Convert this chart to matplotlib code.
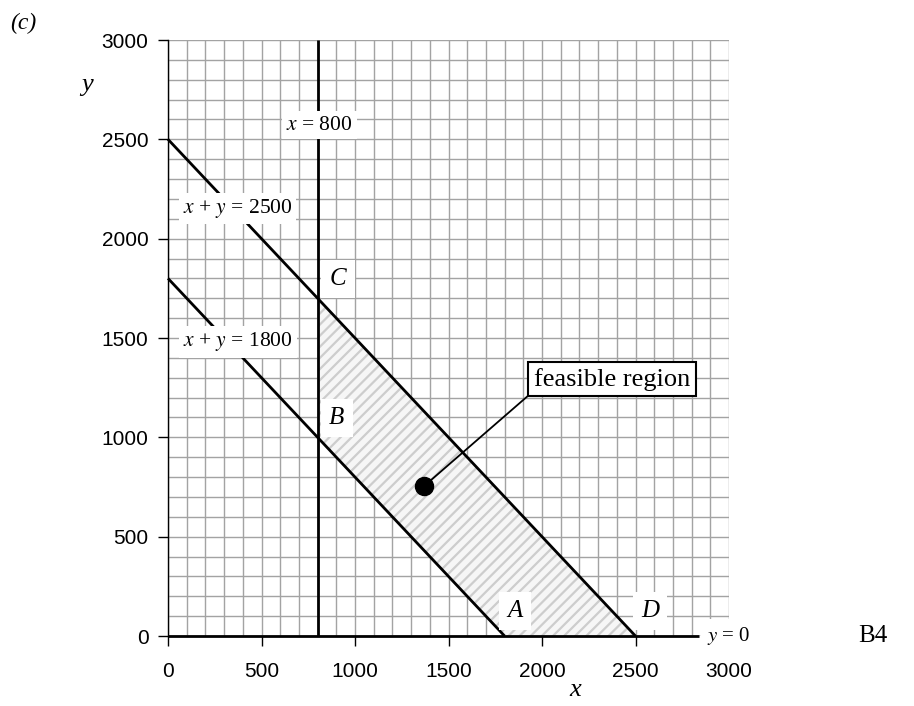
import numpy as np
import matplotlib
matplotlib.use("Agg")
import matplotlib.pyplot as plt

plt.rcParams['mathtext.fontset'] = 'stix'
plt.rcParams['font.family'] = ['Liberation Sans', 'DejaVu Sans']
plt.rcParams['hatch.linewidth'] = 1.6

# Data
tick_values = [0, 500, 1000, 1500, 2000, 2500, 3000]
grid_values = list(range(0, 3001, 100))
line_x800 = ([800, 800], [0, 3000])
line_2500 = ([0, 2500], [2500, 0])
line_1800 = ([0, 1800], [1800, 0])
line_y0 = ([0, 2840], [0, 0])
region_x = [800, 800, 2500, 1800]
region_y = [1000, 1700, 0, 0]
point = (1370, 755)

labels_lines = [
    (r'$x$ = 800', 810, 2572),
    (r'$x$ + $y$ = 2500', 372, 2152),
    (r'$x$ + $y$ = 1800', 374, 1480),
]
labels_vertices = [
    ('C', 909, 1797),
    ('B', 903, 1097),
    ('A', 1856, 126),
    ('D', 2578, 126),
]

fig = plt.figure(figsize=(9.14, 7.06), dpi=100)
ax = fig.add_axes([168/914, 70/706, (729-168)/914, (636-40)/706])
ax.set_xlim(0, 3000)
ax.set_ylim(0, 3000)

# grid
ax.vlines(grid_values, 0, 3000, colors='#a3a3a3', linewidth=1, zorder=0)
ax.hlines(grid_values, 0, 3000, colors='#a3a3a3', linewidth=1, zorder=0)

# region
ax.fill(region_x, region_y, facecolor='#f6f6f6', edgecolor='#cdcdcd',
        hatch='///', linewidth=0, zorder=1)

for lx, ly in (line_x800, line_2500, line_1800, line_y0):
    ax.plot(lx, ly, color='black', linewidth=2, zorder=3, solid_capstyle='butt',
            clip_on=False)

for s in ['top', 'right', 'bottom']:
    ax.spines[s].set_visible(False)
ax.spines['left'].set_linewidth(1)

ax.set_xticks(tick_values)
ax.set_yticks(tick_values)
ax.tick_params(axis='x', length=7, width=1, pad=12, labelsize=15)
ax.tick_params(axis='y', length=7, width=1, pad=7, labelsize=15)
ax.xaxis.get_major_ticks()[-1].tick1line.set_visible(False)

bbox_w = dict(facecolor='white', edgecolor='none', pad=3)
for txt, x, y in labels_lines:
    ax.text(x, y, txt, ha='center', va='center', fontsize=15.5,
            family='Liberation Serif', bbox=bbox_w, zorder=5)
for txt, x, y in labels_vertices:
    ax.text(x, y, txt, ha='center', va='center', fontsize=18,
            family='Liberation Serif', style='italic',
            bbox=dict(facecolor='white', edgecolor='none', pad=6), zorder=5)

ax.text(2882, 0, r'$y$ = 0', ha='left', va='center', fontsize=15,
        family='Liberation Serif', bbox=dict(facecolor='white', edgecolor='none', pad=4),
        zorder=5, clip_on=False)

ax.plot([point[0]], [point[1]], 'o', color='black', markersize=13, zorder=6)
ax.annotate('feasible region', xy=point, xytext=(2375, 1293),
            ha='center', va='center', fontsize=19, family='Liberation Serif',
            bbox=dict(facecolor='white', edgecolor='black', linewidth=1.5, pad=4),
            arrowprops=dict(arrowstyle='-', color='black', linewidth=1.3,
                            shrinkA=0, shrinkB=0, relpos=(0, 0)),
            zorder=6)

fig.text(23/914, 1 - 23/706, '(c)', ha='center', va='center', fontsize=17,
         family='Liberation Serif', style='italic')
fig.text(87/914, 1 - 85/706, 'y', ha='center', va='center', fontsize=19,
         family='Liberation Serif', style='italic')
fig.text(575/914, 1 - 690/706, 'x', ha='center', va='center', fontsize=19,
         family='Liberation Serif', style='italic')
fig.text(873/914, 1 - 636/706, 'B4', ha='center', va='center', fontsize=18,
         family='Liberation Serif')

fig.savefig('out.png', dpi=100, facecolor='white')
